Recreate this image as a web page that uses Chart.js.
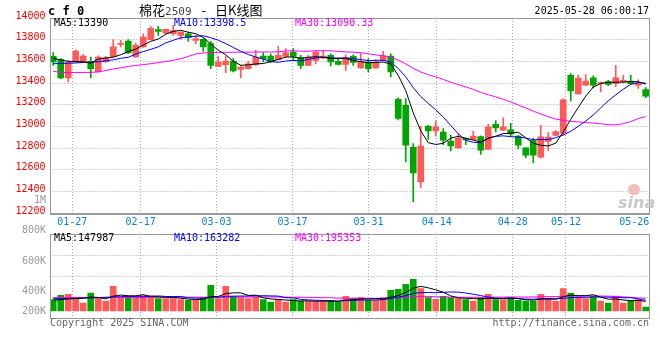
<!DOCTYPE html>
<html>
<head>
<meta charset="utf-8">
<script src="https://cdn.jsdelivr.net/npm/chart.js@4.4.1/dist/chart.umd.min.js"></script>
<style>
  body { margin: 0; background: #fff; }
  #wrap { position: relative; width: 660px; height: 360px; overflow: hidden;
          font-family: "DejaVu Sans Mono", monospace; font-size: 10px; color: #000; }
  canvas { position: absolute; left: 0; }
  .t { position: absolute; white-space: pre; line-height: 12px; height: 12px; }
  .frame { position: absolute; border: 1px solid #999; box-sizing: border-box; pointer-events: none; }
  .cn { font-family: "Noto Sans CJK SC", sans-serif; font-size: 13px; }
</style>
</head>
<body>
<div id="wrap">
  <canvas id="priceChart" width="660" height="232" style="top:0"></canvas>
  <canvas id="volChart" width="660" height="84" style="top:234px"></canvas>
  <div class="frame" style="left:50px;top:18px;width:600px;height:197px;border-bottom-width:2px"></div>
  <div class="frame" style="left:50px;top:234px;width:600px;height:85px"></div>

  <div class="t" style="left:48px;top:4px;height:14px;line-height:14px;font-weight:bold;font-size:12px">c f 0</div>
  <div class="t" style="left:139px;top:2px;height:16px;line-height:16px"><span class="cn">棉花</span><span style="font-size:11px;color:#444">2509</span><span class="cn" style="margin:0 9px 0 10px">-</span><span class="cn">日K线图</span></div>
  <div class="t" style="right:11px;top:5px">2025-05-28 06:00:17</div>

  <div class="t" style="left:54px;top:17px">MA5:13390</div>
  <div class="t" style="left:174px;top:17px;color:#0000ff">MA10:13398.5</div>
  <div class="t" style="left:295px;top:17px;color:#ff00ff">MA30:13090.33</div>

  <div class="t" style="left:54px;top:232px">MA5:147987</div>
  <div class="t" style="left:174px;top:232px;color:#0000ff">MA10:163282</div>
  <div class="t" style="left:295px;top:232px;color:#ff00ff">MA30:195353</div>

  <div class="t" style="left:50px;top:317px;color:#666">Copyright 2025 SINA.COM</div>
  <div class="t" style="right:11px;top:317px;color:#666">http://finance.sina.com.cn</div>

  <div style="position:absolute;left:628px;top:184px;width:12px;height:11px;border-radius:6px;background:#f2bcbc"></div>
  <div class="t" style="left:618px;top:193px;height:16px;line-height:16px;font:italic bold 16px 'DejaVu Sans',sans-serif;color:#c8c8c8">sina</div>
</div>
<script>
// trading days, 2025-01-22 .. 2025-05-27
const dates = ["01-22","01-23","01-24","01-27",
  "02-05","02-06","02-07","02-10","02-11","02-12","02-13","02-14","02-17","02-18","02-19","02-20","02-21","02-24","02-25","02-26","02-27","02-28",
  "03-03","03-04","03-05","03-06","03-07","03-10","03-11","03-12","03-13","03-14","03-17","03-18","03-19","03-20","03-21","03-24","03-25","03-26","03-27","03-28","03-31",
  "04-01","04-02","04-03","04-07","04-08","04-09","04-10","04-11","04-14","04-15","04-16","04-17","04-18","04-21","04-22","04-23","04-24","04-25","04-28","04-29","04-30",
  "05-06","05-07","05-08","05-09","05-12","05-13","05-14","05-15","05-16","05-19","05-20","05-21","05-22","05-23","05-26","05-27"];
const tickDates = ["01-27","02-17","03-03","03-17","03-31","04-14","04-28","05-12","05-26"];
const priceTicks = [14000,13800,13600,13400,13200,13000,12800,12600,12400,12200];
const volTicks = [1000,800,600,400,200]; // thousand lots

const open = [13646,13618,13446,13594,13594,13600,13505,13594,13643,13757,
  13787,13640,13732,13800,13892,13860,13855,13840,13855,13794,
  13803,13763,13554,13569,13603,13526,13532,13569,13649,13649,
  13615,13646,13686,13634,13563,13609,13631,13655,13600,13572,
  13646,13539,13594,13539,13609,13649,13250,13195,12807,12488,
  13001,12958,12946,12863,12801,12887,12880,12906,12788,13019,
  12964,12967,12909,12801,12868,12715,12860,12915,12936,13471,
  13300,13379,13447,13394,13413,13394,13408,13418,13380,13339];
const high = [13680,13625,13609,13707,13664,13640,13650,13646,13800,13793,
  13800,13769,13855,13920,13923,13898,13932,13872,13870,13840,
  13810,13784,13649,13649,13625,13563,13600,13701,13680,13670,
  13738,13717,13717,13655,13655,13701,13701,13670,13631,13660,
  13661,13671,13625,13618,13692,13670,13262,13256,12841,13001,
  13010,13050,12979,12920,12930,12895,12955,12912,13019,13053,
  13078,13028,12915,12805,12889,13010,12943,12960,13256,13486,
  13476,13478,13466,13410,13425,13563,13471,13471,13430,13357];
const low = [13563,13440,13409,13590,13590,13446,13500,13590,13640,13732,
  13670,13636,13728,13796,13840,13855,13840,13803,13784,13763,
  13692,13532,13550,13496,13502,13446,13528,13560,13594,13590,
  13610,13640,13610,13532,13560,13575,13625,13557,13568,13517,
  13563,13535,13502,13535,13605,13456,13060,12672,12304,12433,
  12880,12910,12830,12772,12797,12830,12876,12740,12784,12949,
  12960,12909,12792,12710,12665,12706,12772,12911,12918,13235,
  13296,13375,13355,13320,13375,13366,13404,13390,13350,13265];
const close = [13594,13446,13591,13695,13649,13532,13640,13634,13735,13766,
  13677,13747,13824,13905,13877,13895,13883,13870,13818,13809,
  13732,13563,13594,13603,13511,13548,13578,13640,13625,13594,
  13655,13680,13646,13563,13640,13686,13649,13594,13572,13634,
  13590,13600,13532,13594,13649,13502,13072,12826,12571,12817,
  12958,12995,12872,12820,12890,12875,12910,12780,12995,12985,
  12995,12930,12826,12734,12734,12903,12900,12952,13244,13328,
  13446,13418,13379,13405,13388,13447,13425,13394,13405,13278];

const ma5 = [13630,13612,13600,13598,13595,13583,13621,13630,13638,13661,
  13690,13712,13750,13784,13806,13850,13877,13886,13869,13855,
  13822,13758,13703,13660,13601,13564,13567,13576,13580,13597,
  13618,13639,13640,13628,13637,13643,13637,13626,13628,13627,
  13608,13598,13586,13590,13593,13575,13470,13329,13124,12958,
  12849,12833,12843,12892,12907,12890,12873,12855,12890,12909,
  12933,12937,12946,12894,12844,12825,12819,12845,12947,13065,
  13174,13278,13363,13395,13407,13407,13409,13412,13412,13390];
const ma10 = [13578,13580,13583,13585,13590,13592,13597,13605,13614,13628,
  13637,13667,13690,13711,13734,13770,13794,13818,13826,13831,
  13836,13818,13795,13764,13728,13693,13663,13640,13620,13599,
  13591,13603,13608,13604,13617,13631,13638,13633,13628,13632,
  13625,13617,13606,13609,13610,13592,13534,13457,13357,13275,
  13212,13152,13086,13008,12932,12870,12853,12849,12891,12908,
  12912,12905,12901,12892,12876,12879,12878,12895,12920,12955,
  13000,13049,13104,13171,13236,13291,13343,13387,13404,13398.5];
const ma30 = [13508,13498,13496,13496,13497,13498,13502,13515,13530,13540,
  13553,13562,13570,13578,13588,13598,13610,13624,13645,13668,
  13678,13680,13682,13683,13684,13685,13685,13686,13686,13686,
  13688,13696,13698,13693,13693,13698,13698,13697,13692,13687,
  13684,13679,13670,13659,13652,13639,13611,13577,13535,13502,
  13476,13457,13433,13407,13386,13364,13342,13313,13292,13272,
  13250,13225,13197,13170,13140,13114,13089,13067,13056,13046,
  13041,13035,13030,13024,13015,13013,13025,13044,13072,13090.33];

// volume, thousand lots
const volume = [174,240,255,179,122,275,205,153,378,205,
  225,205,236,236,190,190,190,174,164,164,
  205,393,190,378,225,205,190,214,174,138,
  174,138,174,148,148,148,148,164,138,225,
  190,205,164,164,205,317,332,409,485,343,
  205,179,225,205,190,174,153,205,255,174,
  174,190,164,153,153,255,190,153,343,275,
  214,190,225,153,122,225,122,164,174,61];
const vma5 = [165,175,185,190,194,214,207,187,227,243,
  233,233,250,221,218,211,208,196,182,176,
  179,220,223,266,278,278,238,242,202,184,
  178,168,160,154,156,151,153,151,149,165,
  173,184,184,190,186,211,236,285,350,377,
  355,324,287,231,201,195,189,185,195,192,
  192,200,191,171,167,183,183,181,219,243,
  235,235,249,211,181,183,169,157,161,148];
const vma10 = [190,190,192,195,198,200,205,210,215,219,
  224,220,218,224,231,222,221,223,202,197,
  195,214,210,224,227,229,229,233,234,231,
  228,203,201,178,170,165,160,155,152,161,
  162,169,168,169,175,192,210,235,270,281,
  283,280,286,291,289,275,257,236,213,197,
  193,195,188,183,180,188,191,186,195,205,
  209,209,215,215,212,209,202,203,186,163];
const vma30 = [205,205,206,206,206,207,207,207,208,208,
  209,209,210,210,210,210,211,211,211,211,
  212,213,213,214,214,215,215,216,216,216,
  216,212,210,209,209,205,203,204,196,196,
  195,195,193,190,191,195,200,208,218,224,
  224,217,218,213,211,210,209,209,212,213,
  213,215,214,214,215,218,220,219,226,228,
  228,228,230,230,227,224,217,209,198,195];

const upColor = "#ff5a5a";
const downColor = "#00a600";
const gridColor = "#a8a8a8";
const candleColor = close.map((c, i) => c >= open[i] ? upColor : downColor);
const monoFont = { family: '"DejaVu Sans Mono", monospace', size: 10 };

// date grid: one step per trading day across the frame; last label kept inside
function dateTicks(scale) {
  const last = dates.length - 1;
  scale.ticks = tickDates.map(d => ({ value: Math.min(dates.indexOf(d), last - 2) }));
}
const dateGridColor = ctx => ctx.index === tickDates.length - 1 ? "rgba(0,0,0,0)" : gridColor;

function maLine(data, color) {
  return { type: "line", data, borderColor: color, borderWidth: 1, pointRadius: 0,
           tension: 0, xAxisID: "x", yAxisID: "y" };
}

const dateAxis = extra => Object.assign({
  type: "linear", position: "bottom", min: 0, max: dates.length - 1, offset: false,
  afterBuildTicks: dateTicks,
  grid: { color: dateGridColor, drawTicks: false, offset: false },
  border: { display: false, dash: [1, 2] }
}, extra);

// Price (K line) chart
new Chart(document.getElementById("priceChart"), {
  type: "bar",
  data: {
    labels: dates,
    datasets: [
      maLine(ma5, "#000000"),
      maLine(ma10, "#0000ff"),
      maLine(ma30, "#ff00ff"),
      { data: open.map((o, i) => [o, close[i]]), backgroundColor: candleColor,
        barThickness: 6, minBarLength: 1, grouped: false, xAxisID: "x", yAxisID: "y" },
      { data: low.map((l, i) => [l, high[i]]), backgroundColor: candleColor,
        barThickness: 1, grouped: false, xAxisID: "x", yAxisID: "y" }
    ]
  },
  options: {
    responsive: false,
    animation: false,
    events: [],
    layout: { padding: { left: 0, right: 10.5, top: 18, bottom: 0 } },
    plugins: { legend: { display: false }, tooltip: { enabled: false } },
    scales: {
      x: { type: "category", display: false, offset: true },
      xg: dateAxis({
        afterFit: s => { s.height = 19; },
        ticks: { callback: (v, i) => tickDates[i], color: "#0a7fd8", font: monoFont,
                 padding: 3, maxRotation: 0, autoSkip: false }
      }),
      y: {
        min: 12200, max: 14000,
        afterBuildTicks: s => { s.ticks = priceTicks.map(v => ({ value: v })); },
        afterFit: s => { s.width = 49.5; },
        grid: { color: gridColor, drawTicks: false },
        border: { display: false, dash: [1, 2], dashOffset: 0.5 },
        ticks: { callback: v => String(v), color: "#ff0000", font: monoFont, padding: 4, labelOffset: -2 }
      }
    }
  }
});

// Volume chart
new Chart(document.getElementById("volChart"), {
  type: "bar",
  data: {
    labels: dates,
    datasets: [
      maLine(vma5, "#000000"),
      maLine(vma10, "#0000ff"),
      maLine(vma30, "#ff00ff"),
      { data: volume, backgroundColor: candleColor, barThickness: 6, grouped: false,
        xAxisID: "x", yAxisID: "y" }
    ]
  },
  options: {
    responsive: false,
    animation: false,
    events: [],
    layout: { padding: { left: 0, right: 10.5, top: 0, bottom: 0 } },
    plugins: { legend: { display: false }, tooltip: { enabled: false } },
    scales: {
      x: { type: "category", display: false, offset: true },
      xg: dateAxis({
        afterFit: s => { s.height = 0; },
        ticks: { display: false }
      }),
      y: {
        min: -107, max: 1178,
        // four equal bands, as in the original panel
        afterBuildTicks: s => { s.ticks = [0, 1, 2, 3, 4].map(k => ({ value: s.min + (s.max - s.min) * k / 4 })); },
        afterFit: s => { s.width = 49.5; },
        grid: { color: gridColor, drawTicks: false },
        border: { display: false, dash: [1, 2], dashOffset: 0.5 },
        ticks: { display: false }
      }
    }
  }
});

// volume axis labels, placed like the original (lowest one sits on the baseline)
const wrap = document.getElementById("wrap");
volTicks.forEach(v => {
  const el = document.createElement("div");
  el.className = "t";
  el.textContent = v >= 1000 ? (v / 1000) + "M" : v + "K";
  const y = Math.min(352 - v * 0.152, 311);
  el.style.cssText = "right:614px;text-align:right;color:#999;top:" + (y - 6) + "px";
  wrap.appendChild(el);
});
</script>
</body>
</html>
